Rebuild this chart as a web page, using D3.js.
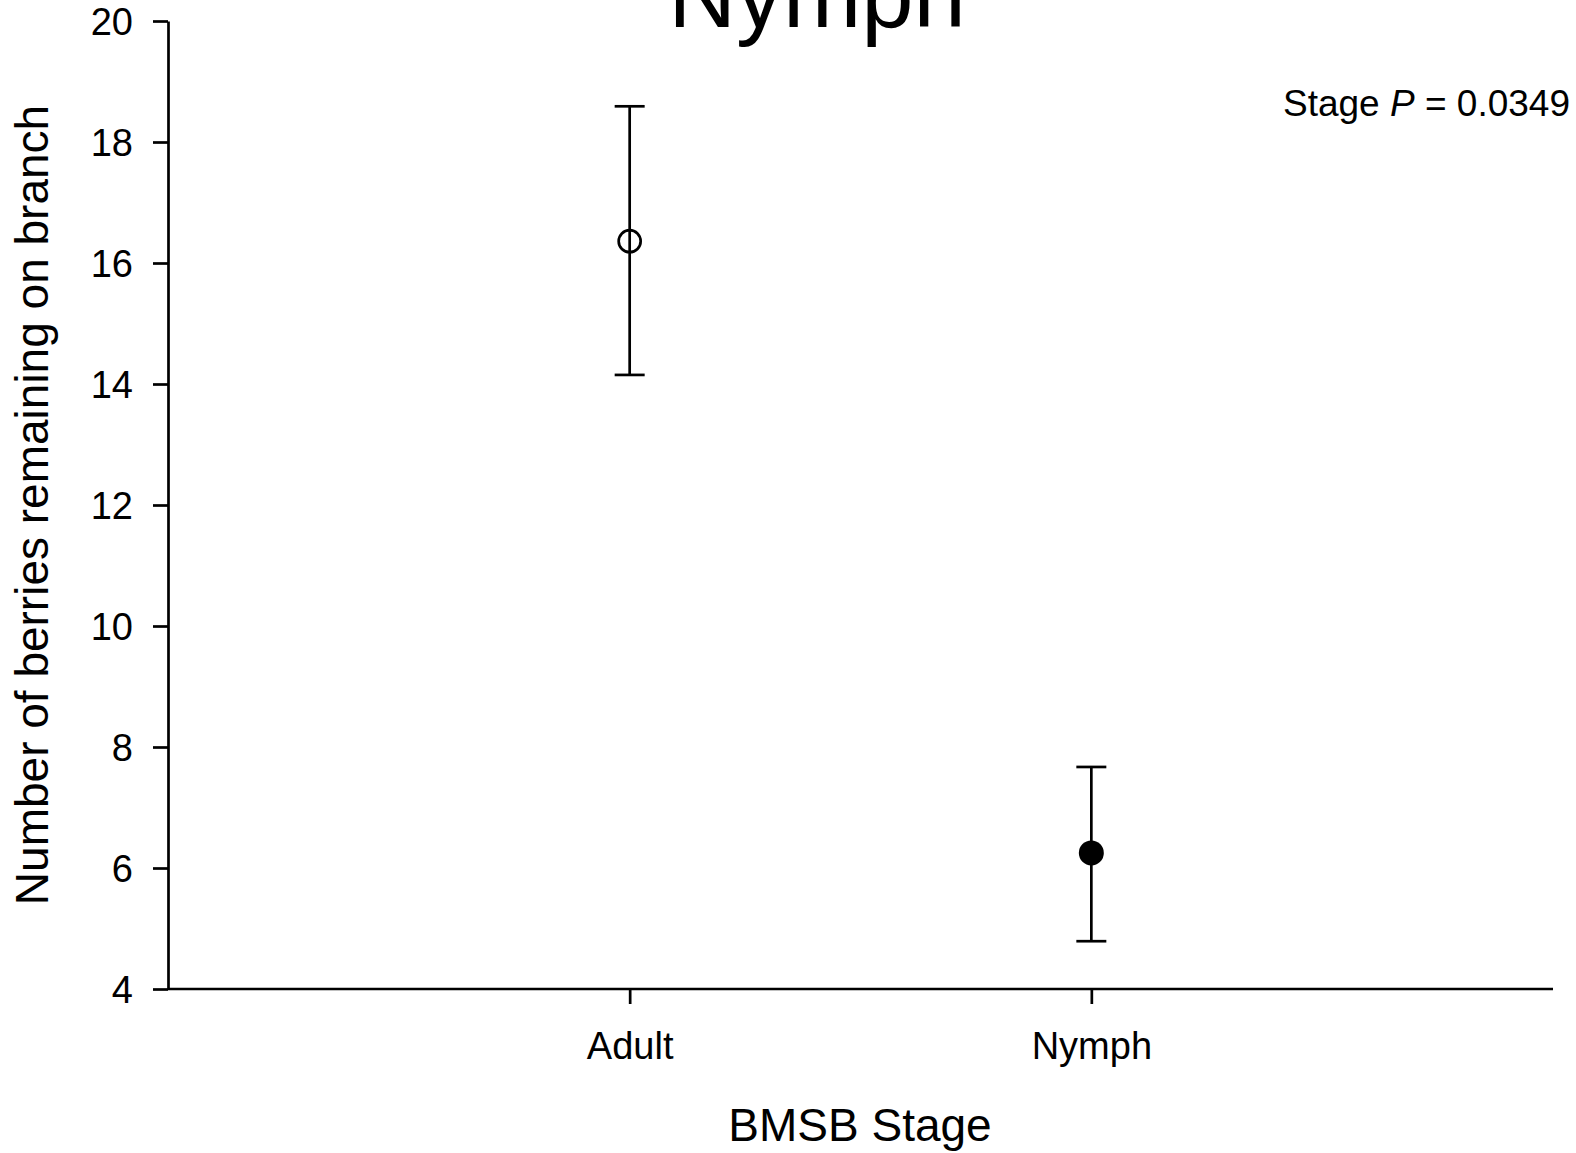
<!DOCTYPE html>
<html>
<head>
<meta charset="utf-8">
<script src="https://cdn.jsdelivr.net/npm/d3@7"></script>
<style>
html,body{margin:0;padding:0;background:#fff;}
svg{display:block;font-family:"Liberation Sans",Arial,sans-serif;}
</style>
</head>
<body>
<svg id="chart" width="1576" height="1153"></svg>
<script>
const categories = ["Adult", "Nymph"];
const means = [16.36, 6.25];
const upper = [18.59, 7.67];
const lower = [14.15, 4.79];
const filled = [false, true];
const yTicks = [4, 6, 8, 10, 12, 14, 16, 18, 20];
const titleText = "Nymph";
const xTitle = "BMSB Stage";
const yTitle = "Number of berries remaining on branch";

const svg = d3.select("#chart");
const mLeft = 168, mRight = 1553, mTop = 21, mBottom = 989;

const x = d3.scalePoint().domain(categories).range([mLeft, mRight]).padding(1);
const y = d3.scaleLinear().domain([4, 20]).range([mBottom, mTop]);

// y axis
const yAxis = svg.append("g").attr("transform", `translate(${mLeft},0)`)
  .call(d3.axisLeft(y).tickValues(yTicks).tickSize(15).tickSizeOuter(0).tickPadding(20));
// x axis
const xAxis = svg.append("g").attr("transform", `translate(0,${mBottom})`)
  .call(d3.axisBottom(x).tickSize(15).tickSizeOuter(0).tickPadding(28));
[yAxis, xAxis].forEach(g => {
  g.selectAll("path.domain").attr("stroke", "#000").attr("stroke-width", 2.7);
  g.selectAll(".tick line").attr("stroke", "#000").attr("stroke-width", 2.7);
  g.selectAll(".tick text").attr("fill", "#000").attr("font-size", 38)
    .attr("font-family", "Liberation Sans, Arial, sans-serif");
});
yAxis.selectAll(".tick text").attr("dy", "0.35em");
xAxis.select("path.domain").attr("d", `M${mLeft},0H${mRight}`);

// error bars
const data = categories.map((c, i) => ({c, m: means[i], u: upper[i], l: lower[i], f: filled[i]}));
const g = svg.append("g");
data.forEach(d => {
  const cx = x(d.c);
  g.append("line").attr("x1", cx).attr("x2", cx).attr("y1", y(d.u)).attr("y2", y(d.l))
    .attr("stroke", "#000").attr("stroke-width", 2.7);
  [d.u, d.l].forEach(v => g.append("line").attr("x1", cx - 15).attr("x2", cx + 15)
    .attr("y1", y(v)).attr("y2", y(v)).attr("stroke", "#000").attr("stroke-width", 2.7));
  g.append("circle").attr("cx", cx).attr("cy", y(d.m)).attr("r", d.f ? 12.5 : 11)
    .attr("fill", d.f ? "#000" : "none")
    .attr("stroke", "#000").attr("stroke-width", d.f ? 0 : 2.7);
});

// title (clipped at top, as in the original)
svg.append("text").attr("x", 817).attr("y", 27).attr("text-anchor", "middle")
  .attr("font-size", 94).text(titleText);

// annotation
const ann = svg.append("text").attr("x", 1570).attr("y", 116).attr("text-anchor", "end")
  .attr("font-size", 37);
ann.append("tspan").text("Stage ");
ann.append("tspan").attr("font-style", "italic").text("P");
ann.append("tspan").text(" = 0.0349");

// axis titles
svg.append("text").attr("x", 860).attr("y", 1141).attr("text-anchor", "middle")
  .attr("font-size", 46).text(xTitle);
svg.append("text").attr("transform", `translate(48,505) rotate(-90)`).attr("text-anchor", "middle")
  .attr("font-size", 46).text(yTitle);
</script>
</body>
</html>
